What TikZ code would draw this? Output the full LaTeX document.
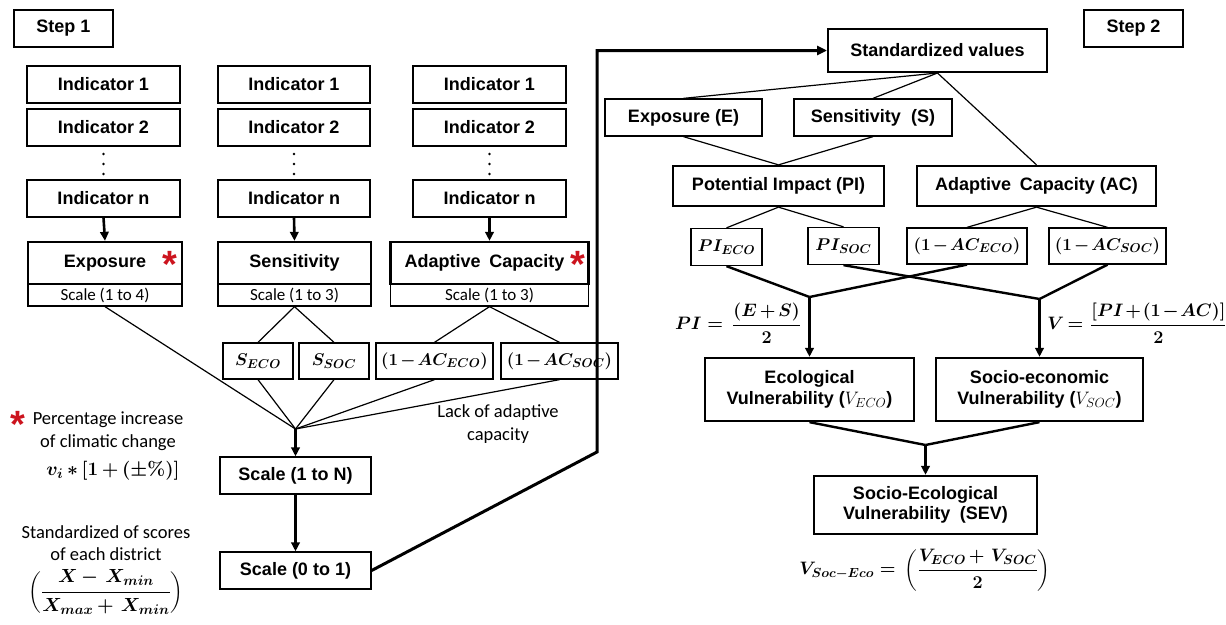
\RequirePackage{fix-cm}
\documentclass[tikz,border=0pt]{standalone}
\usepackage{amsmath}
\usepackage[no-math]{fontspec}
\setmainfont{Liberation Sans}
\newfontfamily\carl{Carlito}
\usetikzlibrary{arrows.meta}
\definecolor{starred}{RGB}{204,20,30}
\DeclareMathSizes{17}{17}{12.8}{9.5}
\DeclareMathSizes{18}{18}{13.2}{10}
\DeclareMathSizes{19}{19}{14}{10.5}
\newcommand\lblfont{\bfseries\fontsize{18}{20.5}\selectfont}
\newcommand\notefont{\carl\fontsize{18.5}{22.5}\selectfont}
\newcommand\scalefont{\carl\fontsize{17}{19}\selectfont}
\newcommand\xfont{\fontsize{17}{20}\selectfont\boldmath\medmuskip=2mu plus 1mu minus 1mu}
\newcommand\mfont{\fontsize{18}{21}\selectfont\boldmath\medmuskip=2.5mu plus 1mu minus 1mu}
\newcommand\bigmfont{\fontsize{19}{22}\selectfont\boldmath\medmuskip=3mu plus 1mu minus 1mu}
\begin{document}
\begin{tikzpicture}[x=1pt,y=-1pt,
  sz/.style 2 args={minimum width=#1pt, minimum height=#2pt},
  ibox/.style={draw, line width=1.3pt, inner sep=0pt, align=center, font=\lblfont},
  tbox/.style={draw, line width=2.3pt, inner sep=0pt, align=center, font=\lblfont},
  mbox/.style={draw, line width=2pt, inner sep=0pt, align=center, font=\lblfont},
  sbox/.style={draw, line width=1.3pt, inner sep=0pt, align=center, font=\scalefont},
  xbox/.style={draw, line width=1.3pt, inner sep=0pt, align=center, font=\xfont},
  note/.style={inner sep=0pt, align=center, font=\notefont},
  fml/.style={inner sep=0pt, font=\mfont},
  bfml/.style={inner sep=0pt, font=\bigmfont},
  redstar/.style={inner sep=0pt, text=starred, font=\bfseries\fontsize{38}{38}\selectfont, anchor=base},
  thinl/.style={line width=1.2pt},
  thickl/.style={line width=2.4pt},
  arr/.style={line width=2.6pt, -{Triangle[length=9pt,width=8.5pt]}},
  bigl/.style={line width=3pt, -{Triangle[length=10pt,width=9pt]}},
  dotm/.style={fill=black, inner sep=0pt, minimum size=2.8pt, circle}
]
\useasboundingbox (0,0) rectangle (1226,624);
\fill[white] (0,0) rectangle (1226,624);

% ---------------- Step 1 ----------------
\node[tbox, sz={99}{37}] (st1) at (63.5,28.5) {Step 1};

% indicator columns
\node[ibox, sz={153}{37}] (a1) at (103.5,84.5) {Indicator 1};
\node[ibox, sz={153}{37}] (a2) at (103.5,127.5) {Indicator 2};
\node[ibox, sz={153}{37}] (an) at (103.5,198.5) {Indicator n};
\node[ibox, sz={152}{37}] (b1) at (294,84.5) {Indicator 1};
\node[ibox, sz={152}{37}] (b2) at (294,127.5) {Indicator 2};
\node[ibox, sz={152}{37}] (bn) at (294,198.5) {Indicator n};
\node[ibox, sz={153}{37}] (c1) at (489.5,84.5) {Indicator 1};
\node[ibox, sz={153}{37}] (c2) at (489.5,127.5) {Indicator 2};
\node[ibox, sz={153}{37}] (cn) at (489.5,198.5) {Indicator n};

\foreach \xx in {103.5,294,489.5}{
  \node[dotm] at (\xx,154) {};
  \node[dotm] at (\xx,164) {};
  \node[dotm] at (\xx,174) {};
}

% main boxes
\node[tbox, sz={154}{42}] (ex) at (105,263) {Exposure};
\node[sbox, sz={154}{22}] (exs) at (105,295) {Scale (1 to 4)};
\node[tbox, sz={153}{42}] (se) at (294.5,263) {Sensitivity};
\node[sbox, sz={153}{22}] (ses) at (294.5,295) {Scale (1 to 3)};
\node[tbox, sz={198}{42}] (ac) at (489.5,263) {Adaptive\hspace{0.2em} Capacity\hspace{10pt}};
\node[sbox, sz={198}{22}] (acs) at (489.5,295) {Scale (1 to 3)};
\node[redstar] at (170,277) {*};
\node[redstar] at (578,277) {*};

\draw[arr] (an.south) -- (ex.north);
\draw[arr] (bn.south) -- (se.north);
\draw[arr] (cn.south) -- (ac.north);

% sub-indicators
\node[xbox, sz={70}{36}] (seco) at (258,361) {$S_{ECO}$};
\node[xbox, sz={70}{36}] (ssoc) at (334,361) {$S_{SOC}$};
\node[xbox, sz={117}{36}] (aeco) at (434.5,361) {$(1-AC_{ECO})$};
\node[xbox, sz={117}{36}] (asoc) at (559.5,361) {$(1-AC_{SOC})$};

\draw[thinl] (ses.south) -- (seco.north);
\draw[thinl] (ses.south) -- (ssoc.north);
\draw[thinl] (acs.south) -- (aeco.north);
\draw[thinl] (acs.south) -- (asoc.north);

\coordinate (cv) at (295.5,429);
\draw[thinl] (exs.south) -- (cv);
\draw[thinl] (seco.south) -- (cv);
\draw[thinl] (ssoc.south) -- (cv);
\draw[thinl] (aeco.south) -- (cv);
\draw[thinl] (asoc.south) -- (cv);

\node[note] (lack) at (498,424) {Lack of adaptive\\capacity};

\node[ibox, sz={151}{37}] (sN) at (295.5,475.5) {Scale (1 to N)};
\node[ibox, sz={151}{37}] (s01) at (295.5,570.5) {Scale (0 to 1)};
\draw[arr] (cv) -- (sN.north);
\draw[arr] (sN.south) -- (s01.north);

% notes on the left
\node[redstar] at (18,437) {*};
\node[note] (n1) at (108,431) {Percentage increase\\of climatic change};
\node[bfml] (f1) at (113,471) {$v_i * [1+(\pm\%)]$};
\node[note] (n2) at (106,543) {Standardized of scores\\of each district};
\node[bfml] (f2) at (106,592) {$\left(\dfrac{X-\,X_{min}}{X_{max}+\,X_{min}}\right)$};

% ---------------- Step 2 ----------------
\node[tbox, sz={99}{37}] (st2) at (1133.5,28.5) {Step 2};
\node[mbox, sz={219}{43}] (std) at (937.5,50.5) {Standardized values};

\coordinate (bend) at (597,452);
\draw[bigl] (s01.east) -- (bend) |- (std.west);

\node[ibox, sz={157}{37}] (eE) at (683.5,117.5) {Exposure (E)};
\node[ibox, sz={158}{37}] (sS) at (873,117.5) {Sensitivity\hspace{0.3em} (S)};
\node[tbox, sz={211}{40}] (pi) at (778.5,186) {Potential Impact (PI)};
\node[tbox, sz={239}{40}] (acr) at (1036.5,186) {Adaptive\hspace{0.2em} Capacity (AC)};

\draw[thinl] (std.south) -- (eE.north);
\draw[thinl] (std.south) -- (sS.north);
\draw[thinl] (std.south) -- (acr.north);
\draw[thinl] (eE.south) -- (pi.north);
\draw[thinl] (sS.south) -- (pi.north);

\node[xbox, sz={71}{37}] (pieco) at (726.5,247) {$PI_{ECO}$};
\node[xbox, sz={71}{37}] (pisoc) at (843.5,246) {$PI_{SOC}$};
\node[xbox, sz={120}{36}] (aceco) at (967,246) {$(1-AC_{ECO})$};
\node[xbox, sz={117}{36}] (acsoc) at (1107.5,246) {$(1-AC_{SOC})$};

\draw[thinl] (pi.south) -- (pieco.north);
\draw[thinl] (pi.south) -- (pisoc.north);
\draw[thinl] (acr.south) -- (aceco.north);
\draw[thinl] (acr.south) -- (acsoc.north);

\coordinate (j1) at (809.5,297);
\coordinate (j2) at (1039.5,299);
\draw[thickl] (pieco.south) -- (j1);
\draw[thickl] (aceco.south) -- (j1);
\draw[thickl] (pisoc.south) -- (j2);
\draw[thickl] (acsoc.south) -- (j2);

\node[tbox, sz={209}{63}] (eco) at (809.5,389.5) {Ecological\\Vulnerability ({\mdseries\fontsize{18}{20}\selectfont$V_{ECO}$})};
\node[tbox, sz={207}{63}] (soc) at (1039.5,389.5) {Socio-economic\\Vulnerability ({\mdseries\fontsize{18}{20}\selectfont$V_{SOC}$})};
\draw[arr] (j1) -- (eco.north);
\draw[arr] (j2) -- (soc.north);

\node[fml] (fpi) at (738,323) {$PI=\,\dfrac{(E+S)}{2}$};
\node[fml] (fv) at (1137,323) {\medmuskip=1.5mu\thickmuskip=3mu$V=\;\dfrac{[PI+(1-AC)]}{2}$};

\coordinate (j3) at (925.5,445);
\draw[thickl] (eco.south) -- (j3);
\draw[thickl] (soc.south) -- (j3);
\node[tbox, sz={223}{58}] (sev) at (925.5,505) {Socio-Ecological\\Vulnerability\hspace{0.25em} (SEV)};
\draw[arr] (j3) -- (sev.north);

\node[fml] (fsev) at (925,570) {$V_{Soc-Eco}=\,\left(\dfrac{V_{ECO}+\,V_{SOC}}{2}\right)$};
\end{tikzpicture}
\end{document}
